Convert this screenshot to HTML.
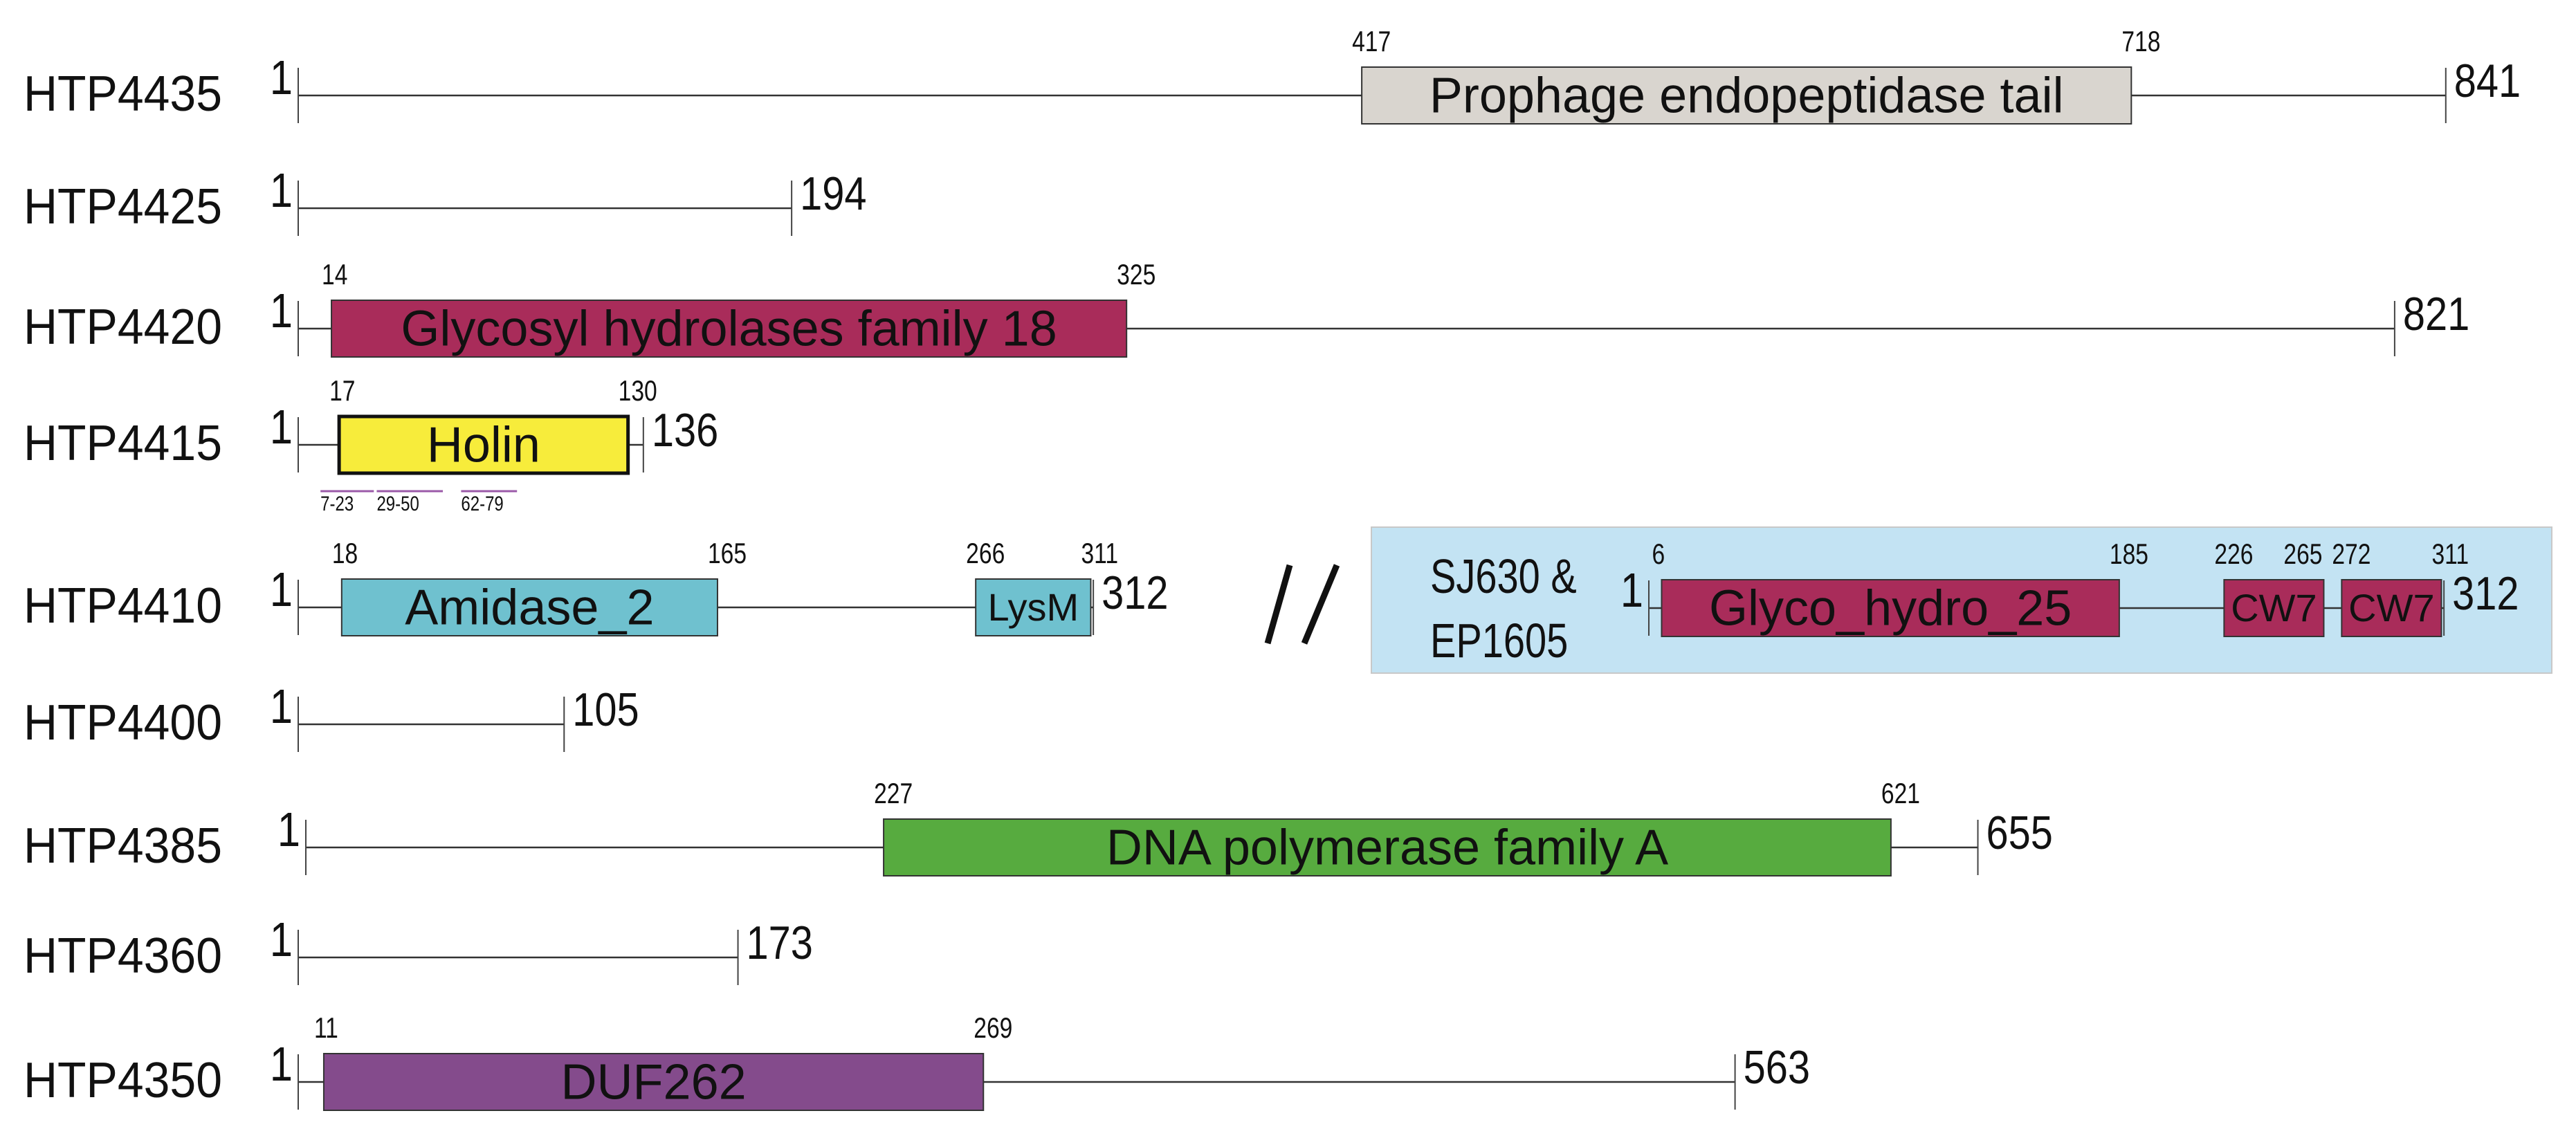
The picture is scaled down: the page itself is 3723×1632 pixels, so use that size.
<!DOCTYPE html>
<html><head><meta charset="utf-8"><style>
html,body{margin:0;padding:0;background:#fff;}
svg{display:block;}
text{font-family:"Liberation Sans Narrow","Liberation Sans",sans-serif;fill:#111;}
</style></head><body>
<svg id="chart" width="3723" height="1632" viewBox="0 0 3723 1632" xmlns="http://www.w3.org/2000/svg">
<rect x="1982" y="762" width="1706" height="211" fill="#c3e3f3" stroke="#c8c8c8" stroke-width="2"/>
<g stroke="#111" stroke-width="9">
<line x1="1864" y1="817" x2="1832" y2="930"/><line x1="1932" y1="817" x2="1885" y2="930"/>
</g>
<text class="cond" x="2067" y="857" font-size="70">SJ630 &amp;</text>
<text class="cond" x="2067" y="950" font-size="70">EP1605</text>
<g id="rows"></g>
</svg>
<script>
// data
const proteinNames = ["HTP4435","HTP4425","HTP4420","HTP4415","HTP4410","HTP4400","HTP4385","HTP4360","HTP4350","SJ630"];
const proteinLengths = [841,194,821,136,312,105,655,173,563,312];
const domainProtein = [0,2,3,4,4,6,8,9,9,9];
const domainStart = [417,14,17,18,266,227,11,6,226,272];
const domainEnd = [718,325,130,165,311,621,269,185,265,311];
const domainLabels = ["Prophage endopeptidase tail","Glycosyl hydrolases family 18","Holin","Amidase_2","LysM","DNA polymerase family A","DUF262","Glyco_hydro_25","CW7","CW7"];
const domainColors = ["#d9d5cf","#a92c5a","#f7ec3b","#6fc1cf","#6fc1cf","#57ab3f","#844b8c","#a92c5a","#a92c5a","#a92c5a"];
const tmStart = [7,29,62];
const tmEnd = [23,50,79];

// layout
const rowY = [138,301,475,643,878,1047,1225,1384,1564,879];
const rowX0 = [431,431,431,431,431,431,442,431,431,2383];
const aaPx = 3.695;
const NS="http://www.w3.org/2000/svg";
const g=document.getElementById('rows');
function xOf(r,aa){return rowX0[r]+(aa-1)*aaPx;}
function mk(tag,attrs,parent){const e=document.createElementNS(NS,tag);for(const k in attrs)e.setAttribute(k,attrs[k]);(parent||g).appendChild(e);return e;}
function squeeze(t,f){const w=t.getComputedTextLength();if(w>0){t.setAttribute('textLength',(w*f).toFixed(1));t.setAttribute('lengthAdjust','spacingAndGlyphs');}}

proteinNames.forEach((name,r)=>{
  const y=rowY[r],x0=xOf(r,1),x1=xOf(r,proteinLengths[r]);
  if(r<9){
    const t=mk('text',{x:34,y:y+22,'font-size':72,textLength:287,lengthAdjust:'spacingAndGlyphs'});
    
    
    t.textContent=name;
  }
  const ln=mk('line',{x1:x0,y1:y,x2:x1,y2:y,stroke:'#333','stroke-width':2.5});
  
  
  const s=mk('line',{x1:x0,y1:y-40,x2:x0,y2:y+40,stroke:'#444','stroke-width':2});
  
  
  const e=mk('line',{x1:x1,y1:y-40,x2:x1,y2:y+40,stroke:'#444','stroke-width':2});
  
  
  const one=mk('text',{x:x0-8,y:y-2,'font-size':70,'text-anchor':'end'});
  
  
  one.textContent='1';
  squeeze(one,0.85);
  const en=mk('text',{x:x1+12,y:y+2,'font-size':68});
  
  
  en.textContent=String(proteinLengths[r]);
  squeeze(en,0.85);
});

domainLabels.forEach((lab,i)=>{
  const r=domainProtein[i],y=rowY[r];
  const xa=xOf(r,domainStart[i]),xb=xOf(r,domainEnd[i]);
  const holin=lab==='Holin';
  const rc=mk('rect',{x:xa,y:y-41,width:xb-xa,height:82,fill:domainColors[i],stroke:holin?'#111':'#333','stroke-width':holin?5:2});
  
  
  const fs=(xb-xa)<200?56:72;
  const t=mk('text',{x:(xa+xb)/2,y:y+fs*0.34,'font-size':fs,'text-anchor':'middle'});
  
  
  t.textContent=lab;
  const ts=mk('text',{x:xa-14,y:y-64,'font-size':42});
  
  
  ts.textContent=String(domainStart[i]);
  squeeze(ts,0.8);
  const nextClose = (i+1<domainLabels.length && domainProtein[i+1]===r && xOf(r,domainStart[i+1])-xb<70);
  const te=mk('text',{x:nextClose?xb-2:xb-14,y:y-64,'font-size':42,'text-anchor':nextClose?'end':'start'});
  
  
  te.textContent=String(domainEnd[i]);
  squeeze(te,0.8);
});

tmStart.forEach((s,i)=>{
  const r=3,xa=xOf(r,s)+10,xb=xOf(r,tmEnd[i])+28;
  const l=mk('line',{x1:xa,y1:710,x2:xb,y2:710,stroke:'#9b5aa8','stroke-width':3});
  
  
  const t=mk('text',{x:xa,y:738,'font-size':30});
  
  
  t.textContent=s+'-'+tmEnd[i];
  squeeze(t,0.8);
});
document.querySelectorAll('text.cond').forEach(t=>squeeze(t,0.8));
</script>
</body></html>
